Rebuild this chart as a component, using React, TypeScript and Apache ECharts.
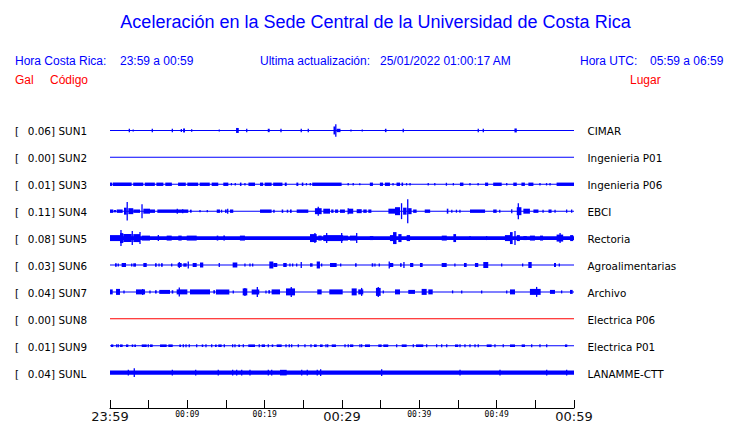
import React, { useEffect, useRef } from "react";
import * as echarts from "echarts";

type Burst = [number, number, number]; // [start minute, end minute, half amplitude]

const titleText = "Aceleración en la Sede Central de la Universidad de Costa Rica";
const codes = ["SUN1", "SUN2", "SUN3", "SUN4", "SUN5", "SUN6", "SUN7", "SUN8", "SUN9", "SUNL"];
const gals = ["0.06", "0.00", "0.01", "0.11", "0.08", "0.03", "0.04", "0.00", "0.01", "0.04"];
const places = [
  "CIMAR", "Ingenieria P01", "Ingenieria P06", "EBCI", "Rectoria",
  "Agroalimentarias", "Archivo", "Electrica P06", "Electrica P01", "LANAMME-CTT",
];
const tickLabels = ["23:59", "00:09", "00:19", "00:29", "00:39", "00:49", "00:59"];
const bigTicks = ["23:59", "00:29", "00:59"];
// background noise half-thickness per trace
const noise = [0.5, 0.5, 0.5, 0.5, 1.8, 0.5, 0.5, 0.5, 0.5, 2.2];

const sun1: Burst[] = [
  [2.5, 2.5, 1.7], [3.0, 3.0, 1.0], [5.47, 5.47, 1.7], [8.06, 8.06, 1.7], [9.15, 9.3, 1.5],
  [9.45, 9.7, 2.0], [10.56, 10.56, 1.2], [14.13, 14.13, 1.0], [16.3, 16.65, 2.5], [17.68, 17.68, 1.7],
  [20.4, 20.65, 1.7], [22.11, 22.11, 1.7], [24.73, 24.73, 1.7], [25.64, 25.64, 1.7], [28.9, 29.15, 4.0],
  [29.2, 29.2, 6.3], [29.3, 29.8, 1.7], [31.16, 31.16, 1.0], [32.62, 32.62, 1.0], [35.55, 35.75, 1.7],
  [37.92, 37.92, 1.7], [47.62, 47.62, 1.7], [48.27, 48.27, 1.7], [52.3, 52.6, 2.0],
];
const sun2: Burst[] = [];
const sun3: Burst[] = [
  [0, 0.26, 1.7], [0.35, 2.8, 1.7], [3.0, 4.3, 1.7], [4.5, 5.8, 1.7], [6.0, 6.9, 1.7], [7.15, 8.0, 1.7],
  [8.8, 9.8, 1.7], [10.0, 11.4, 1.7], [11.6, 12.9, 1.7], [13.15, 14.0, 1.7], [14.65, 15.3, 1.7],
  [15.7, 15.7, 1.2], [16.2, 16.2, 1.2], [16.8, 17.0, 1.7], [17.45, 17.45, 1.2], [17.9, 18.75, 1.7],
  [19.4, 19.8, 1.7], [20.0, 20.9, 1.7], [21.1, 22.3, 1.7], [22.6, 22.85, 1.7], [24.1, 24.35, 1.7],
  [24.8, 25.0, 1.7], [25.4, 25.4, 1.2], [25.9, 25.9, 1.2], [26.15, 29.95, 1.7], [30.8, 30.8, 1.2],
  [31.45, 31.45, 1.2], [32.3, 32.3, 1.0], [33.6, 34.0, 1.7], [34.9, 35.3, 1.7], [35.55, 36.2, 1.7],
  [36.6, 36.6, 1.2], [37.05, 37.5, 1.7], [37.7, 37.9, 1.7], [38.35, 38.35, 1.2], [38.8, 38.8, 1.2],
  [41.15, 41.15, 1.2], [42.0, 42.0, 1.2], [43.5, 43.5, 1.5], [44.4, 44.4, 1.2], [45.25, 45.7, 1.7],
  [46.55, 46.55, 1.2], [47.6, 47.6, 1.2], [48.5, 48.9, 1.7], [49.55, 50.65, 1.7], [51.3, 51.3, 1.2],
  [52.15, 52.6, 1.7], [53.2, 53.65, 1.7], [54.1, 54.75, 1.7], [55.6, 55.6, 1.2], [56.45, 56.45, 1.2],
  [56.9, 56.9, 1.2], [57.75, 60, 1.7],
];
const sun4: Burst[] = [
  [0, 0.43, 1.7], [0.52, 0.78, 1.2], [0.87, 1.64, 1.7], [1.81, 2.16, 3.5], [2.2, 2.25, 9.3], [2.37, 3.01, 3],
  [3.01, 3.88, 1.7], [4.12, 4.16, 7], [4.31, 5.17, 2.5], [5.17, 5.82, 1.7], [6.12, 10.12, 1.7], [8.7, 8.7, 2.5],
  [9.4, 9.4, 2.0], [10.34, 10.56, 1.5], [11.64, 11.64, 1.2], [12.58, 12.58, 1.2], [13.8, 14.22, 1.7],
  [14.35, 14.5, 1.5], [14.87, 15.09, 1.7], [15.22, 15.22, 2.5], [15.52, 15.94, 1.7], [19.4, 20.9, 1.7],
  [21.1, 21.3, 1.5], [22.2, 22.4, 1.7], [22.85, 23.05, 1.5], [23.27, 23.49, 1.7], [24.14, 25.64, 1.7],
  [26.5, 27.37, 3], [26.93, 26.93, 4.5], [27.58, 28.45, 2.5], [28.6, 28.9, 1.7], [29.1, 29.5, 1.7],
  [29.74, 30.38, 1.7], [30.8, 31.45, 2.5], [30.8, 30.8, 3], [31.9, 32.55, 2], [32.75, 33.2, 1.7],
  [33.4, 33.8, 1.7], [36.0, 36.85, 2.5], [36.85, 37.5, 4], [37.7, 37.7, 8], [37.9, 38.35, 3.5],
  [38.5, 38.5, 12], [38.55, 39.0, 3], [39.2, 39.65, 1.7], [40.7, 41.4, 1.7], [43.55, 43.75, 2.5],
  [44.2, 44.2, 1.5], [44.8, 44.8, 1.5], [45.25, 45.25, 1.5], [46.55, 48.5, 1.7], [49.55, 50.0, 1.7],
  [50.4, 50.4, 1.5], [51.95, 51.95, 2], [52.6, 53.2, 4], [52.8, 52.8, 8], [53.45, 54.3, 2.5],
  [54.75, 55.4, 1.7], [56.0, 56.0, 1.5], [56.7, 57.1, 1.7], [57.55, 57.55, 1.5], [59.05, 59.05, 1.7],
  [59.7, 59.7, 1.7],
];
const sun5: Burst[] = [
  [0, 1.29, 3], [1.29, 1.72, 5], [1.42, 1.42, 8], [1.72, 2.81, 4], [2.88, 2.88, 7], [3.01, 3.88, 4],
  [3.88, 3.88, 6], [4.1, 5.17, 2.5], [6.25, 6.25, 3], [7.33, 7.98, 2.5], [8.83, 9.27, 2.5], [9.92, 11.21, 2.5],
  [13.8, 14.0, 2.5], [14.65, 14.87, 2.5], [16.8, 17.45, 2.5], [25.86, 26.73, 4], [26.5, 26.5, 5],
  [26.93, 27.37, 2.5], [27.58, 30.16, 3], [28.02, 28.02, 5], [29.96, 29.96, 5], [30.16, 30.77, 2.5],
  [31.03, 31.9, 2.5], [31.9, 31.9, 5], [33.6, 34.05, 2], [36.2, 36.85, 3], [36.6, 37.05, 6],
  [37.28, 37.7, 4], [38.36, 38.8, 3], [42.9, 43.55, 2.5], [44.4, 44.75, 4], [46.55, 46.55, 2],
  [48.7, 48.7, 2], [51.07, 51.94, 3], [51.72, 52.07, 6], [52.37, 52.37, 7], [52.6, 53.0, 3],
  [53.45, 53.9, 2], [54.3, 54.95, 2.5], [55.6, 56.0, 2.5], [57.75, 58.6, 3.5], [58.2, 58.2, 5],
  [59.5, 59.9, 3],
];
const sun6: Burst[] = [
  [0.65, 0.87, 1.7], [1.07, 1.07, 1.5], [1.51, 2.07, 2], [2.81, 2.81, 1.5], [3.01, 3.36, 1.7], [4.31, 4.75, 2],
  [5.82, 6.04, 1.7], [6.34, 6.34, 1.5], [6.6, 6.82, 1.7], [7.98, 7.98, 1.5], [8.75, 9.27, 2], [8.96, 8.96, 3],
  [9.48, 9.92, 1.7], [10.12, 10.12, 3.5], [10.69, 11.21, 2], [11.64, 12.06, 2.5], [14.13, 14.13, 2],
  [15.86, 16.46, 2.5], [17.45, 17.45, 1.5], [18.1, 18.1, 1.5], [18.45, 18.45, 1.5], [20.6, 21.12, 3.5],
  [21.12, 21.63, 2], [22.4, 22.85, 2], [23.27, 23.27, 1.5], [23.62, 23.62, 1.5], [24.14, 24.14, 1.5],
  [24.73, 24.73, 3], [25.86, 26.2, 1.7], [26.73, 27.15, 3.5], [27.37, 27.37, 1.5], [28.45, 29.31, 2],
  [29.83, 29.83, 1.5], [31.68, 31.9, 1.7], [33.84, 34.05, 1.7], [34.26, 34.26, 1.5], [34.82, 34.82, 1.5],
  [36.11, 36.63, 2], [36.11, 36.11, 3.5], [37.5, 37.72, 1.7], [38.01, 38.01, 3], [38.8, 39.22, 2],
  [40.08, 40.43, 2], [42.89, 43.54, 2], [44.6, 44.6, 1.5], [45.77, 46.12, 2], [47.19, 47.62, 2],
  [48.27, 48.91, 3], [50.65, 50.65, 1.5], [53.36, 53.36, 1.5], [54.09, 54.53, 3], [57.41, 57.67, 2],
  [58.1, 58.1, 1.5],
];
const sun7: Burst[] = [
  [0, 0.35, 2.5], [0.78, 1.29, 3], [1.81, 1.81, 1.5], [3.36, 4.53, 2.5], [4.23, 4.23, 3], [5.17, 5.17, 1.5],
  [5.82, 6.04, 1.7], [6.37, 7.76, 2], [7.98, 8.18, 1.7], [8.62, 10.0, 2.5], [8.96, 8.96, 4.5],
  [10.34, 12.93, 2.5], [13.36, 13.58, 1.7], [13.7, 15.43, 2.5], [15.94, 15.94, 1.5], [17.16, 17.75, 3.5],
  [17.45, 17.45, 4], [18.32, 19.3, 2.5], [19.05, 19.05, 5], [20.17, 20.17, 1.5], [20.47, 20.69, 1.7],
  [20.9, 21.98, 2.5], [22.76, 23.92, 3.5], [23.44, 23.44, 5], [26.8, 27.37, 2.5], [28.36, 30.09, 2.5],
  [31.25, 31.9, 3.5], [32.1, 32.75, 2.5], [32.54, 32.54, 4], [34.39, 35.0, 4], [34.69, 34.69, 5],
  [35.34, 35.34, 1.5], [36.85, 37.5, 2.5], [38.57, 39.44, 2], [40.3, 40.95, 3], [41.16, 41.73, 2.5],
  [44.3, 44.3, 1.5], [45.48, 45.48, 1.5], [48.06, 48.06, 1.5], [51.3, 51.3, 1.5], [51.72, 52.37, 2.5],
  [54.3, 55.69, 3], [55.17, 55.17, 5], [56.89, 57.54, 2], [58.4, 58.4, 1.5], [59.48, 59.83, 2],
];
const sun8: Burst[] = [];
const sun9: Burst[] = [
  [0.13, 0.43, 1.3], [0.87, 0.87, 1.5], [1.07, 1.07, 1.5], [1.29, 1.64, 1.3], [2.07, 2.37, 1.3],
  [2.81, 3.01, 1.3], [3.14, 3.36, 1.3], [4.1, 4.75, 1.3], [4.95, 4.95, 1.5], [5.17, 5.52, 1.3],
  [6.47, 7.33, 1.3], [7.54, 8.11, 1.3], [8.96, 9.18, 1.3], [9.48, 9.48, 1.5], [9.83, 9.83, 1.5],
  [10.25, 10.25, 1.5], [11.21, 11.21, 1.5], [11.86, 12.06, 1.3], [12.41, 12.41, 1.5], [13.15, 13.15, 1.5],
  [13.58, 13.8, 1.3], [14.0, 14.44, 1.3], [14.78, 14.78, 1.5], [15.86, 15.86, 1.5], [16.16, 16.16, 1.5],
  [16.59, 16.81, 1.3], [17.24, 17.24, 1.5], [17.88, 18.75, 1.3], [19.3, 19.3, 1.5], [19.61, 20.04, 1.3],
  [20.47, 20.47, 1.5], [20.91, 21.11, 1.3], [21.55, 22.2, 1.3], [22.76, 22.76, 1.5], [23.18, 23.18, 1.5],
  [23.49, 23.49, 1.5], [24.35, 24.35, 1.5], [25.21, 25.21, 1.5], [25.99, 25.99, 1.5], [26.38, 26.73, 1.3],
  [27.15, 27.5, 1.3], [27.93, 27.93, 1.5], [28.15, 28.15, 1.5], [28.67, 29.22, 1.3], [30.39, 30.39, 1.5],
  [30.81, 30.81, 1.5], [31.03, 31.46, 1.3], [32.32, 32.32, 1.5], [32.54, 32.54, 1.5], [32.97, 33.62, 1.3],
  [34.69, 35.13, 1.3], [35.34, 35.98, 1.3], [37.07, 37.07, 1.5], [37.72, 38.36, 1.3], [39.22, 39.22, 1.5],
  [39.57, 40.51, 1.3], [40.95, 40.95, 1.5], [42.24, 42.24, 1.5], [42.89, 42.89, 1.5], [43.54, 43.54, 1.5],
  [44.61, 45.04, 1.3], [45.26, 45.26, 1.5], [45.9, 45.9, 1.5], [46.55, 46.55, 1.5], [47.2, 47.2, 1.5],
  [47.62, 47.62, 1.5], [48.71, 49.35, 1.3], [49.78, 49.78, 1.5], [50.85, 50.85, 1.5], [51.72, 52.37, 1.3],
  [53.23, 53.66, 1.3], [54.53, 54.53, 1.5], [55.6, 55.6, 1.5], [56.47, 56.47, 1.5], [58.83, 59.13, 1.3],
];
const sunL: Burst[] = [
  [2.37, 2.37, 3], [3.14, 3.14, 4.3], [8.06, 8.06, 3], [11.08, 11.08, 3], [14.0, 14.0, 2.8],
  [15.86, 15.86, 3], [16.38, 16.38, 3], [17.03, 17.03, 3], [18.1, 18.1, 3], [20.47, 20.47, 3],
  [20.91, 20.91, 3], [21.98, 22.85, 2.8], [24.79, 24.79, 3], [25.51, 25.51, 2.8], [26.8, 26.8, 3],
  [27.24, 27.24, 3.5], [35.13, 35.13, 3.5], [45.26, 45.26, 3], [50.43, 50.43, 3], [56.47, 56.47, 3],
  [59.05, 59.05, 3],
];
const traces: Burst[][] = [sun1, sun2, sun3, sun4, sun5, sun6, sun7, sun8, sun9, sunL];

// ---------- layout ----------
const W = 740;
const H = 423;
const GRID_LEFT = 110;
const GRID_RIGHT = 166;
const GRID_TOP = 117;
const GRID_H = 292;
const Y_MAX = 292;
const FIRST_ROW_PX = 130.5;
const ROW_STEP = 27;
const BLUE = "#0000ff";
const RED = "#ff0000";

const rowPx = (i: number) => FIRST_ROW_PX + i * ROW_STEP;
const rowValue = (i: number) => GRID_TOP + GRID_H - rowPx(i);

export default function App() {
  const ref = useRef<HTMLDivElement>(null);

  useEffect(() => {
    if (!ref.current) return;
    const chart = echarts.init(ref.current, undefined, { renderer: "svg" });

    const series: any[] = traces.map((bursts, i) => {
      const base = rowValue(i);
      const color = codes[i] === "SUN8" ? RED : BLUE;
      const data = [[0, 60, noise[i]], ...bursts];
      return {
        type: "custom",
        name: codes[i],
        coordinateSystem: "cartesian2d",
        clip: false,
        silent: true,
        data,
        renderItem: (_p: any, api: any) => {
          const s = api.value(0);
          const e = api.value(1);
          const a = api.value(2);
          const tl = api.coord([s, base + a]);
          const br = api.coord([e, base - a]);
          let x = tl[0];
          let w = br[0] - tl[0];
          const minW = 1.3;
          if (w < minW) {
            x = (tl[0] + br[0]) / 2 - minW / 2;
            w = minW;
          }
          return {
            type: "rect",
            shape: { x, y: tl[1], width: w, height: br[1] - tl[1] },
            style: { fill: color },
          };
        },
      };
    });

    const labelFont = "DejaVu Sans";
    const graphic: any[] = [
      {
        type: "text",
        x: 375.5,
        y: 22,
        style: {
          text: titleText,
          fill: BLUE,
          font: "18px 'Liberation Sans', Arial, sans-serif",
          textAlign: "center",
          textVerticalAlign: "middle",
        },
      },
      ...[
        { t: "Hora Costa Rica:", x: 15 },
        { t: "23:59 a 00:59", x: 120 },
        { t: "Ultima actualización:", x: 260 },
        { t: "25/01/2022 01:00:17 AM", x: 380 },
        { t: "Hora UTC:", x: 580 },
        { t: "05:59 a 06:59", x: 650 },
      ].map((h) => ({
        type: "text",
        x: h.x,
        y: 61,
        style: {
          text: h.t,
          fill: BLUE,
          font: "12px 'Liberation Sans', Arial, sans-serif",
          textAlign: "left",
          textVerticalAlign: "middle",
        },
      })),
      ...[
        { t: "Gal", x: 15 },
        { t: "Código", x: 50 },
        { t: "Lugar", x: 630 },
      ].map((h) => ({
        type: "text",
        x: h.x,
        y: 80,
        style: {
          text: h.t,
          fill: RED,
          font: "12px 'Liberation Sans', Arial, sans-serif",
          textAlign: "left",
          textVerticalAlign: "middle",
        },
      })),
    ];
    codes.forEach((c, i) => {
      const y = rowPx(i);
      const font = `10.4px '${labelFont}', sans-serif`;
      graphic.push(
        { type: "text", x: 15, y, style: { text: "[", fill: "#000", font, textAlign: "left", textVerticalAlign: "middle" } },
        { type: "text", x: 55, y, style: { text: `${gals[i]}]`, fill: "#000", font, textAlign: "right", textVerticalAlign: "middle" } },
        { type: "text", x: 58.5, y, style: { text: c, fill: "#000", font, textAlign: "left", textVerticalAlign: "middle" } },
        { type: "text", x: 587.5, y, style: { text: places[i], fill: "#000", font, textAlign: "left", textVerticalAlign: "middle" } }
      );
    });

    chart.setOption({
      animation: false,
      backgroundColor: "#ffffff",
      grid: { left: GRID_LEFT, right: GRID_RIGHT, top: GRID_TOP, height: GRID_H, containLabel: false },
      xAxis: {
        type: "value",
        min: 0,
        max: 60,
        interval: 5,
        splitLine: { show: false },
        axisLine: { show: true, onZero: false, lineStyle: { color: "#000", width: 1 } },
        axisTick: { show: true, inside: true, length: 8, lineStyle: { color: "#000", width: 1 } },
        axisLabel: {
          show: true,
          margin: 1,
          showMinLabel: true,
          showMaxLabel: true,
          formatter: (v: number) => {
            if (Math.round(v) % 10 !== 0) return "";
            const lbl = tickLabels[Math.round(v) / 10];
            return bigTicks.includes(lbl) ? `{b|${lbl}}` : `{s|${lbl}}`;
          },
          rich: {
            b: { fontSize: 13, fontFamily: "DejaVu Sans", color: "#111", lineHeight: 14, padding: [1, 0, 0, 0] },
            s: { fontSize: 8, fontFamily: "DejaVu Sans Mono", color: "#000", lineHeight: 10 },
          },
        },
      },
      yAxis: {
        type: "value",
        min: 0,
        max: Y_MAX,
        show: false,
        splitLine: { show: false },
      },
      graphic,
      series,
    });

    return () => chart.dispose();
  }, []);

  return (
    <div
      ref={ref}
      style={{ position: "absolute", left: 0, top: 0, width: W, height: H, background: "#fff" }}
    />
  );
}
